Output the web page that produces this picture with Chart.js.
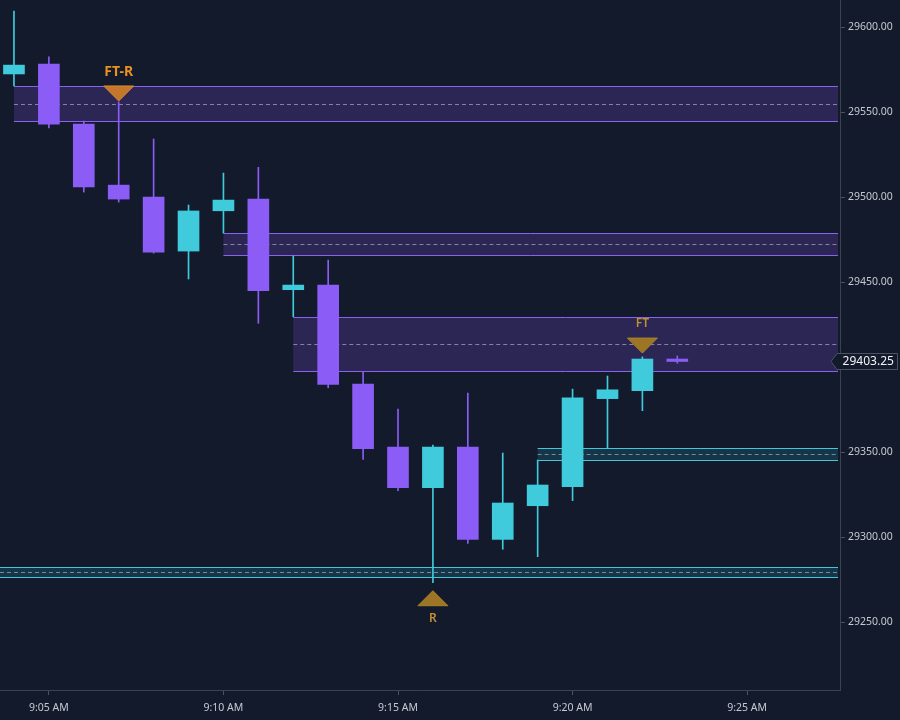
<!DOCTYPE html>
<html>
<head>
<meta charset="utf-8">
<style>
  html, body { margin: 0; padding: 0; background: #131a2b; }
  #wrap { width: 900px; height: 720px; }
</style>
<script src="https://cdn.jsdelivr.net/npm/chart.js"></script>
</head>
<body>
<div id="wrap"><canvas id="candles" width="900" height="720"></canvas></div>
<script>
// minutes after 9:00
const times  = [4, 5, 6, 7, 8, 9, 10, 11, 12, 13, 14, 15, 16, 17, 18, 19, 20, 21, 22, 23];
const opens  = [29572.4, 29578.2, 29542.9, 29507.0, 29500.0, 29468.2, 29491.9, 29498.8, 29445.5, 29448.2,
                29390.0, 29352.9, 29329.0, 29352.9, 29298.6, 29318.4, 29329.6, 29381.4, 29386.1, 29404.7];
const highs  = [29609.4, 29582.4, 29544.7, 29556.0, 29534.1, 29495.3, 29514.1, 29517.5, 29465.3, 29462.9,
                29397.2, 29375.3, 29354.1, 29384.7, 29349.4, 29345.3, 29387.0, 29394.7, 29406.0, 29406.5];
const lows   = [29565.3, 29540.6, 29502.9, 29497.0, 29467.0, 29451.8, 29478.8, 29425.7, 29429.6, 29387.8,
                29345.7, 29327.2, 29273.1, 29296.3, 29292.8, 29288.4, 29321.4, 29352.5, 29374.3, 29402.2];
const closes = [29577.6, 29542.9, 29505.9, 29498.8, 29467.6, 29491.8, 29498.2, 29444.9, 29448.2, 29389.8,
                29351.9, 29329.0, 29352.9, 29298.6, 29320.0, 29330.6, 29381.8, 29386.6, 29404.7, 29403.25];

// supply / demand zones
const zoneStart  = [4, 10, 12, 19, 3];
const zoneTop    = [29565.3, 29478.6, 29429.6, 29352.4, 29282.5];
const zoneBottom = [29544.7, 29465.7, 29397.6, 29345.3, 29276.3];
const zoneMid    = [29555.0, 29472.2, 29413.5, 29348.6, 29279.2];
const zoneKind   = ['supply', 'supply', 'supply', 'demand', 'demand'];

// signal markers
const markerTime  = [7, 22, 16];
const markerPrice = [29556.5, 29408.2, 29268.4];
const markerText  = ['FT-R', 'FT', 'R'];
const markerDir   = ['down', 'down', 'up'];

const yTicks = [29250, 29300, 29350, 29400, 29450, 29500, 29550, 29600];
const xTicks = [5, 10, 15, 20, 25];

const UP = '#3fcbdc';
const DOWN = '#8b5cf6';
const candleColor = times.map((t, i) => closes[i] >= opens[i] ? UP : DOWN);

const fmtTime = m => '9:' + String(m).padStart(2, '0') + ' AM';

const bgPlugin = {
  id: 'bg',
  beforeDraw(chart) {
    const ctx = chart.ctx;
    ctx.save();
    ctx.fillStyle = '#131a2b';
    ctx.fillRect(0, 0, chart.width, chart.height);
    ctx.restore();
  }
};

const zonesPlugin = {
  id: 'zones',
  beforeDatasetsDraw(chart) {
    const { ctx, chartArea: a, scales: { x, y } } = chart;
    ctx.save();
    ctx.beginPath();
    ctx.rect(a.left, a.top, a.right - a.left, a.bottom - a.top);
    ctx.clip();
    zoneStart.forEach((s, i) => {
      const x0 = Math.max(a.left, x.getPixelForValue(s));
      const x1 = a.right - 2;
      const yt = Math.round(y.getPixelForValue(zoneTop[i])) + 0.5;
      const yb = Math.round(y.getPixelForValue(zoneBottom[i])) + 0.5;
      const ym = Math.round(y.getPixelForValue(zoneMid[i])) + 0.5;
      const supply = zoneKind[i] === 'supply';
      ctx.fillStyle = supply ? 'rgba(139, 92, 246, 0.2)' : 'rgba(40, 200, 230, 0.16)';
      ctx.fillRect(x0, yt, x1 - x0, yb - yt);
      ctx.strokeStyle = supply ? '#8b62f0' : '#44c6d8';
      ctx.lineWidth = 1;
      ctx.setLineDash([]);
      ctx.beginPath();
      ctx.moveTo(x0, yt); ctx.lineTo(x1, yt);
      ctx.moveTo(x0, yb); ctx.lineTo(x1, yb);
      ctx.stroke();
      ctx.strokeStyle = 'rgba(190, 195, 210, 0.6)';
      ctx.setLineDash([4, 3]);
      ctx.beginPath();
      ctx.moveTo(x0, ym); ctx.lineTo(x1, ym);
      ctx.stroke();
    });
    ctx.restore();
  }
};

const markersPlugin = {
  id: 'markers',
  afterDatasetsDraw(chart) {
    const { ctx, scales: { x, y } } = chart;
    ctx.save();
    markerTime.forEach((t, i) => {
      const px = x.getPixelForValue(t);
      const py = y.getPixelForValue(markerPrice[i]);
      const w = 15, h = 15;
      const bold = markerText[i] === 'FT-R';
      ctx.fillStyle = bold ? '#c4772a' : '#9c7624';
      ctx.strokeStyle = bold ? '#d88a34' : '#a8822c';
      ctx.lineWidth = 1;
      ctx.beginPath();
      if (markerDir[i] === 'down') {
        ctx.moveTo(px, py);
        ctx.lineTo(px - w, py - h);
        ctx.lineTo(px + w, py - h);
      } else {
        ctx.moveTo(px, py);
        ctx.lineTo(px - w, py + h);
        ctx.lineTo(px + w, py + h);
      }
      ctx.closePath();
      ctx.fill();
      ctx.stroke();
      ctx.textAlign = 'center';
      ctx.textBaseline = 'middle';
      ctx.font = bold ? 'bold 14px "Noto Sans"' : '600 12px "Noto Sans"';
      ctx.fillStyle = bold ? '#e8921f' : '#c39030';
      const ty = markerDir[i] === 'down' ? py - h - 14 : py + h + 13;
      ctx.fillText(markerText[i], px, ty);
    });
    ctx.restore();
  },
  afterDraw(chart) {
    // last price tag on the price axis
    const { ctx, chartArea: a, scales: { y } } = chart;
    const last = closes[closes.length - 1];
    const py = Math.round(y.getPixelForValue(last)) + 0.5;
    const left = a.right - 3, right = chart.width - 2.5;
    ctx.save();
    ctx.fillStyle = '#131a2b';
    ctx.strokeStyle = '#4b5262';
    ctx.lineWidth = 1;
    ctx.beginPath();
    ctx.moveTo(left - 6, py);
    ctx.lineTo(left, py - 8);
    ctx.lineTo(right, py - 8);
    ctx.lineTo(right, py + 8);
    ctx.lineTo(left, py + 8);
    ctx.closePath();
    ctx.fill();
    ctx.stroke();
    ctx.fillStyle = '#f2f4f8';
    ctx.font = '12px "Noto Sans"';
    ctx.textAlign = 'center';
    ctx.textBaseline = 'middle';
    ctx.fillText(last.toFixed(2), (left + right) / 2 + 1, py);
    ctx.restore();
  }
};

new Chart(document.getElementById('candles').getContext('2d'), {
  type: 'bar',
  data: {
    datasets: [
      {
        label: 'Body',
        data: times.map((t, i) => ({ x: t, y: [opens[i], closes[i]] })),
        backgroundColor: candleColor,
        borderColor: candleColor,
        borderWidth: 0,
        borderSkipped: false,
        barThickness: 21,
        grouped: false,
        minBarLength: 2
      },
      {
        label: 'Wick',
        data: times.map((t, i) => ({ x: t, y: [lows[i], highs[i]] })),
        backgroundColor: candleColor,
        borderWidth: 0,
        barThickness: 1,
        grouped: false
      }
    ]
  },
  options: {
    responsive: false,
    animation: false,
    layout: { padding: 0 },
    plugins: { legend: { display: false }, tooltip: { enabled: false } },
    scales: {
      x: {
        type: 'linear',
        min: 3.6,
        max: 27.66,
        offset: false,
        afterBuildTicks: s => { s.ticks = xTicks.map(v => ({ value: v })); },
        afterFit: s => { s.height = 30; s.paddingLeft = 0; s.paddingRight = 0; },
        ticks: {
          callback: v => fmtTime(v),
          color: '#c5c9d1',
          font: { family: 'Noto Sans', size: 10.5 },
          padding: 7,
          maxRotation: 0,
          autoSkip: false
        },
        grid: { offset: false, drawOnChartArea: false, drawTicks: true, tickLength: 5, color: '#4a5162' },
        border: { color: '#3b4252' }
      },
      y: {
        position: 'right',
        min: 29210,
        max: 29615.9,
        afterBuildTicks: s => { s.ticks = yTicks.map(v => ({ value: v })); },
        afterFit: s => { s.width = 60; s.paddingTop = 0; s.paddingBottom = 0; },
        ticks: {
          callback: v => v.toFixed(2),
          color: '#c5c9d1',
          font: { family: 'Noto Sans', size: 10.5 },
          padding: 3
        },
        grid: { drawOnChartArea: false, drawTicks: true, tickLength: 5, color: '#4a5162' },
        border: { color: '#3b4252' }
      }
    }
  },
  plugins: [bgPlugin, zonesPlugin, markersPlugin]
});
</script>
</body>
</html>
